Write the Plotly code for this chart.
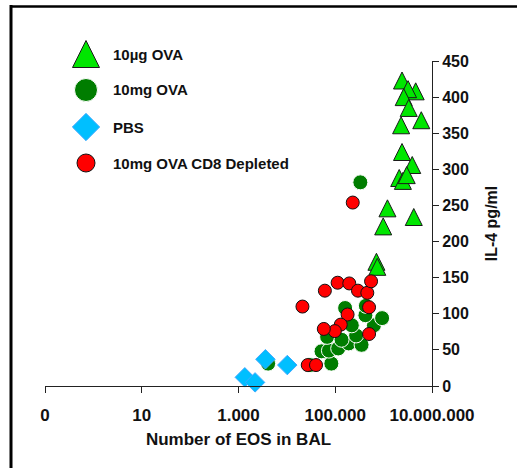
import plotly.graph_objects as go

# ---------------- data ----------------
ova10ug_x = [2.4e6, 4.6e6, 3.2e6, 2.6e6, 3.3e6, 2.3e6, 6.0e6, 2.4e6, 3.9e6,
             2.1e6, 2.5e6, 3.0e6, 1.2e6, 4.2e6, 9.8e5, 7.1e5, 7.4e5]
ova10ug_y = [423, 408, 411, 400, 385, 361, 368, 324, 306,
             288, 284, 292, 246, 234, 221, 172, 165]

ova10mg_x = [4.1e3, 3.0e4, 8.3e4, 5.2e4, 7.4e4, 1.15e5, 1.9e5, 3.5e5, 6.8e4,
             1.35e5, 2.7e5, 2.2e5, 6.3e5, 4.2e5, 9.3e5, 1.6e5, 4.3e5, 3.3e5]
ova10mg_y = [31, 29, 31, 48, 49, 52, 59, 57, 68,
             64, 70, 84, 84, 98, 94, 108, 111, 282]

pbs_x = [1350, 2200, 3600, 10200]
pbs_y = [12, 5, 37, 29]

cd8_x = [2.1e4, 6.1e4, 1.12e5, 1.95e5, 2.95e5, 4.6e5, 5.5e5, 5.0e5,
         1.8e5, 1.3e5, 9.8e4, 5.8e4, 5.0e5, 2.7e4, 4.0e4, 2.3e5]
cd8_y = [110, 132, 143, 142, 132, 129, 145, 109,
         99, 85, 76, 79, 72, 29, 29, 254]

series_names = ["10µg OVA", "10mg OVA", "PBS", "10mg OVA CD8 Depleted"]
x_tickvals = [0.1, 10, 1000, 1e5, 1e7]
x_ticktext = ["0", "10", "1.000", "100.000", "10.000.000"]
y_tickvals = [0, 50, 100, 150, 200, 250, 300, 350, 400, 450]

# ---------------- styling ----------------
W, H = 517, 468
L, R, T, B = 45, 85, 30, 82
AXIS_TOP = 61                      # pixel row of the 450 tick
PW, PH = W - L - R, H - T - B
FONT = "Liberation Sans, Arial, sans-serif"

# tall triangle: an arrow-down turned over and pushed back so it is centred on the point
TRI = dict(symbol="arrow-down", angle=180, color="#00E600", line=dict(color="#1a1a1a", width=1))
GRN = dict(symbol="circle", color="#007D00", line=dict(color="white", width=1))
BLU = dict(symbol="diamond", color="#00BFFF", line=dict(color="#3FA9FF", width=1))
RED = dict(symbol="circle", color="#FF0000", line=dict(color="#111111", width=1))


def px(xp):
    return (xp - L) / PW


def py(yp):
    return (H - B - yp) / PH


fig = go.Figure()

fig.add_trace(go.Scatter(x=ova10ug_x, y=ova10ug_y, mode="markers", name=series_names[0],
                         marker=dict(size=17, standoff=8.5, **TRI), cliponaxis=False))
fig.add_trace(go.Scatter(x=ova10mg_x, y=ova10mg_y, mode="markers", name=series_names[1],
                         marker=dict(size=15, **GRN), cliponaxis=False))
fig.add_trace(go.Scatter(x=pbs_x, y=pbs_y, mode="markers", name=series_names[2],
                         marker=dict(size=15, **BLU), cliponaxis=False))
fig.add_trace(go.Scatter(x=cd8_x, y=cd8_y, mode="markers", name=series_names[3],
                         marker=dict(size=13, **RED), cliponaxis=False))

# ---------------- custom legend (pixel-space axes over the whole area) ----------------
leg_y = [54, 90, 127, 163]
leg_styles = [dict(size=27, standoff=13.5, **TRI), dict(size=23, **GRN),
              dict(size=21, **BLU), dict(size=18, **RED)]
for yy, st in zip(leg_y, leg_styles):
    fig.add_trace(go.Scatter(x=[86], y=[yy], mode="markers", marker=st, xaxis="x2", yaxis="y2",
                             showlegend=False, hoverinfo="skip", cliponaxis=False))
for yy, name in zip(leg_y, series_names):
    fig.add_annotation(x=px(111), y=py(yy), xref="paper", yref="paper", text=name,
                       showarrow=False, xanchor="left", yanchor="middle",
                       font=dict(family=FONT, size=15, color="#111", weight="bold"))

fig.update_layout(
    width=W, height=H,
    margin=dict(l=L, r=R, t=T, b=B),
    paper_bgcolor="white", plot_bgcolor="rgba(0,0,0,0)",
    showlegend=False,
    font=dict(family=FONT, color="#111"),
    xaxis=dict(type="log", range=[-1, 7], tickvals=x_tickvals, ticktext=x_ticktext,
               showgrid=False, zeroline=False, showline=True, linecolor="#222", linewidth=1,
               ticks="outside", ticklen=6, tickcolor="#222", tickwidth=1,
               ticklabelstandoff=8,
               tickfont=dict(family=FONT, size=17, color="#111", weight="bold"),
               title=dict(text="Number of EOS in BAL", standoff=8,
                          font=dict(family=FONT, size=17, color="#111", weight="bold"))),
    yaxis=dict(range=[0, 450], tickvals=y_tickvals, side="right",
               domain=[0, (H - B - AXIS_TOP) / PH],
               showgrid=False, zeroline=False, showline=True, linecolor="#222", linewidth=1,
               ticks="outside", ticklen=6, tickcolor="#222", tickwidth=1,
               tickfont=dict(family=FONT, size=16, color="#111", weight="bold"),
               title=dict(text="IL-4 pg/ml", standoff=17,
                          font=dict(family=FONT, size=16, color="#111", weight="bold"))),
    xaxis2=dict(domain=[0, 1], anchor="y2", range=[L, W - R], visible=False, fixedrange=True),
    yaxis2=dict(domain=[0, 1], anchor="x2", range=[H - B, T], visible=False, fixedrange=True),
    shapes=[
        dict(type="line", xref="paper", yref="paper", x0=px(11), x1=px(11), y0=py(5), y1=py(470),
             line=dict(color="black", width=3)),
        dict(type="line", xref="paper", yref="paper", x0=px(10), x1=px(520), y0=py(6.5), y1=py(6.5),
             line=dict(color="black", width=2.5)),
    ],
)

fig.write_html("out.html")
